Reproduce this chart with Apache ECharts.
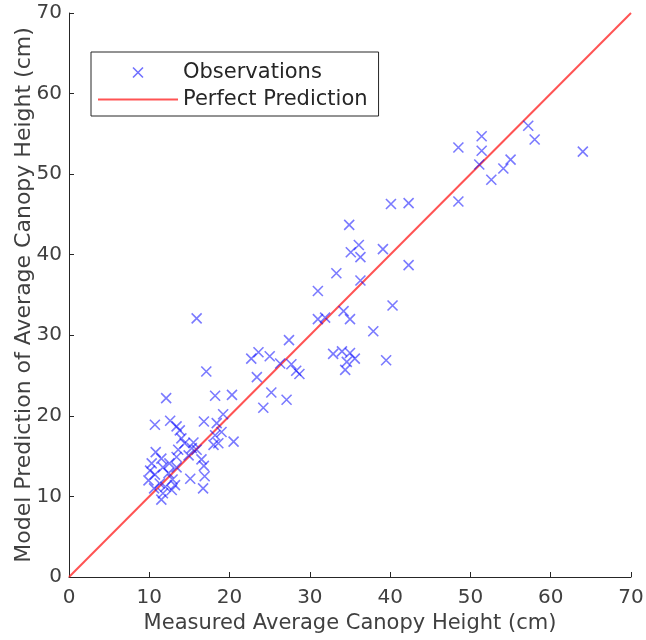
<!DOCTYPE html>
<html>
<head>
<meta charset="utf-8">
<script src="https://cdn.jsdelivr.net/npm/echarts@6/dist/echarts.min.js"></script>
<style>
  html, body { margin: 0; padding: 0; background: #fff; }
  #chart { width: 646px; height: 640px; }
</style>
</head>
<body>
<div id="chart"></div>
<script>
// measured vs predicted canopy height (cm)
const measured = [
  48.5, 51.4, 51.4, 51.1, 57.2, 58.0, 64.0, 55.0, 54.1, 52.6, 48.5,
  40.1, 42.3, 34.9, 36.1, 35.1, 36.3, 39.1, 33.3, 36.3, 42.3, 31.0, 40.3,
  31.0, 31.9, 34.2, 35.0, 37.9, 27.4, 32.9, 34.0, 35.0, 35.6, 34.6, 34.4, 39.5,
  15.9, 22.7, 23.6, 25.0, 26.3, 27.7, 28.3, 28.7, 23.4, 17.1, 25.2, 27.1, 24.2,
  18.2, 20.3, 12.1, 19.2, 10.7, 12.6, 13.4, 16.8, 18.4, 18.2, 19.0, 18.0, 18.6,
  13.8, 20.5, 14.0, 14.4, 15.5, 15.9, 15.3, 13.6, 14.9, 10.8, 11.5, 10.3, 11.7,
  12.5, 13.4, 13.4, 16.5, 16.8, 10.1, 10.7, 12.4, 12.9, 9.9, 11.3, 15.1, 16.9,
  10.6, 12.0, 13.2, 11.7, 12.8, 16.7, 11.5
];
const predicted = [
  53.3, 54.7, 52.9, 51.2, 56.0, 54.3, 52.8, 51.8, 50.7, 49.3, 46.6,
  46.3, 46.4, 43.7, 41.2, 40.3, 39.7, 40.7, 37.7, 36.8, 38.7, 35.5, 33.7,
  32.0, 32.2, 33.0, 32.0, 30.5, 29.4, 27.7, 28.0, 27.8, 27.1, 26.7, 25.7, 26.9,
  32.1, 27.1, 27.9, 27.4, 26.5, 26.4, 25.6, 25.2, 24.8, 25.5, 22.9, 22.0, 21.0,
  22.5, 22.6, 22.2, 20.2, 18.9, 19.4, 18.7, 19.3, 19.1, 17.6, 18.0, 16.4, 16.6,
  18.2, 16.8, 17.2, 16.6, 16.7, 15.8, 16.0, 15.8, 15.1, 15.5, 14.7, 14.1, 13.6,
  14.1, 14.9, 13.6, 14.6, 13.8, 13.2, 12.7, 12.9, 12.1, 12.0, 11.6, 12.2, 12.5,
  11.0, 11.2, 11.4, 10.4, 10.8, 11.0, 9.6
];
const perfectLine = [0, 70];
const axisTicks = [0, 10, 20, 30, 40, 50, 60, 70];

const font = 'DejaVu Sans';
const crossIcon = 'path://M0,0L10,10M0,10L10,0';
const lineIcon = 'path://M0,0L80,0L80,2L0,2Z';

let myChart = echarts.init(document.getElementById('chart'));

const axisBase = {
  type: 'value',
  min: axisTicks[0],
  max: axisTicks[axisTicks.length - 1],
  interval: axisTicks[1] - axisTicks[0],
  nameLocation: 'middle',
  nameTextStyle: { color: '#404040', fontSize: 21, fontFamily: font },
  axisLine: { lineStyle: { color: '#262626', width: 1 } },
  axisTick: { inside: true, length: 5, lineStyle: { color: '#262626' } },
  axisLabel: { color: '#404040', fontSize: 20, fontFamily: font },
  splitLine: { show: false }
};

myChart.setOption({
  animation: false,
  backgroundColor: '#fff',
  grid: { left: 69, right: 15, top: 13, bottom: 63, outerBoundsMode: 'none', containLabel: false },
  legend: {
    orient: 'vertical',
    left: 91,
    top: 52,
    padding: [10, 11, 6, 7],
    itemGap: 6,
    itemWidth: 80,
    itemHeight: 10,
    borderColor: '#262626',
    borderWidth: 1,
    backgroundColor: '#fff',
    textStyle: { color: '#262626', fontSize: 21, fontFamily: font },
    data: [
      { name: 'Observations', icon: crossIcon,
        itemStyle: { color: 'transparent', borderColor: 'rgba(0,0,255,0.7)', borderWidth: 1.6 } },
      { name: 'Perfect Prediction', icon: lineIcon,
        itemStyle: { color: 'rgba(255,40,40,0.8)', borderWidth: 0 } }
    ]
  },
  xAxis: Object.assign({}, axisBase, {
    name: 'Measured Average Canopy Height (cm)',
    nameGap: 36,
    axisLabel: Object.assign({}, axisBase.axisLabel, { margin: 11 })
  }),
  yAxis: Object.assign({}, axisBase, {
    name: 'Model Prediction of Average Canopy Height (cm)',
    nameGap: 34,
    nameMoveOverlap: false,
    nameTextStyle: Object.assign({}, axisBase.nameTextStyle, { fontSize: 22 }),
    axisLabel: Object.assign({}, axisBase.axisLabel, { margin: 7 })
  }),
  series: [
    {
      name: 'Observations',
      type: 'scatter',
      symbol: crossIcon,
      symbolSize: 10,
      itemStyle: { color: 'transparent', borderColor: 'rgba(0,0,255,0.65)', borderWidth: 1.6 },
      data: measured.map((m, i) => [m, predicted[i]]),
      z: 3
    },
    {
      name: 'Perfect Prediction',
      type: 'line',
      showSymbol: false,
      symbol: 'none',
      lineStyle: { color: 'rgba(255,40,40,0.8)', width: 2 },
      data: perfectLine.map(v => [v, v]),
      z: 2
    }
  ]
});
</script>
</body>
</html>
